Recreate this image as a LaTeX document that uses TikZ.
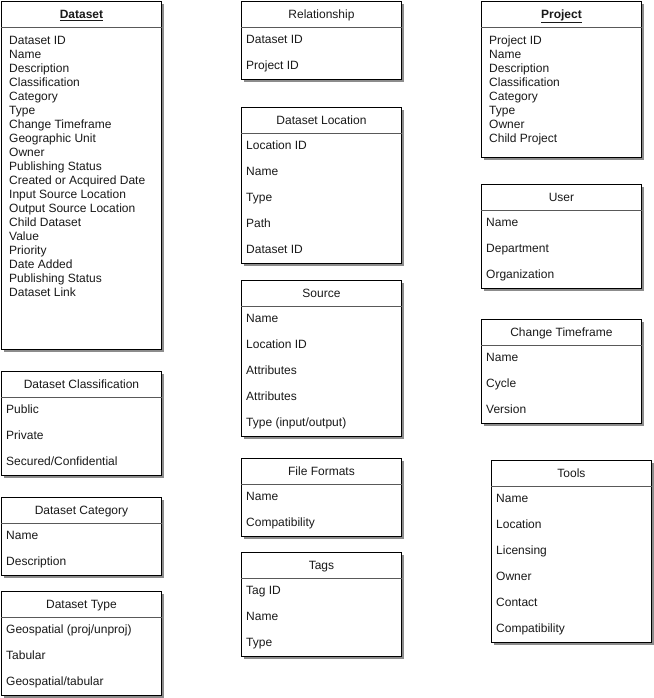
\documentclass[tikz,border=0pt]{standalone}
\usepackage{fontspec}
\setmainfont{Liberation Sans}
\usetikzlibrary{shadows}

\begin{document}
\begin{tikzpicture}[x=1pt, y=-1pt, font=\fontsize{12}{14}\selectfont,
	entity/.style={draw, fill=white, line width=0.9pt, anchor=north west, inner sep=0pt, minimum width=160pt,
		drop shadow={shadow xshift=3pt, shadow yshift=-3pt, fill=black!45, opacity=1}},
	headline/.style={draw=black!65, line width=0.8pt},
	title/.style={inner sep=0pt, text height=10pt, text depth=1pt, text=black!90},
	field/.style={anchor=west, inner sep=0pt, text height=10pt, text depth=1pt, text=black!90}]
	
	\useasboundingbox (0,0) rectangle (653,698); % 画布大小 653 x 698
	
	% 定义普通表格: #1 名称, #2 左上角, #3 高度, #4 标题, #5 字段
	\def\entity#1#2#3#4#5{%
		\node[entity, minimum height=#3] (#1) at (#2) {};
		\draw[headline] ([yshift=-26pt]#1.north west) -- ([yshift=-26pt]#1.north east); % 标题分隔线
		\node[title] (#1-title) at ([yshift=-13pt]#1.north) {#4};
		\foreach \t [count=\i] in {#5}
			\node[field] (#1-\i) at ([xshift=5pt, yshift={-12pt-26pt*\i}]#1.north west) {\t}; % 每行 26px
	}
	
	% 左列: Dataset 主表
	\node[entity, minimum height=348] (dataset) at (1,1) {};
	\draw[headline] ([yshift=-26pt]dataset.north west) -- ([yshift=-26pt]dataset.north east);
	\node[title] (dataset-title) at ([yshift=-13pt]dataset.north) {\underline{\textbf{Dataset}}};
	\foreach \t [count=\i] in {Dataset ID, Name, Description, Classification, Category, Type,
		Change Timeframe, Geographic Unit, Owner, Publishing Status, Created or Acquired Date,
		Input Source Location, Output Source Location, Child Dataset, Value, Priority,
		Date Added, Publishing Status, Dataset Link}
		\node[field] (dataset-\i) at ([xshift=8pt, yshift={-25pt-14pt*\i}]dataset.north west) {\t}; % 每行 14px
	
	\entity{classification}{1,371}{104}{Dataset Classification}{Public, Private, Secured/Confidential}
	\entity{category}{1,497}{78}{Dataset Category}{Name, Description}
	\entity{type}{1,591}{104}{Dataset Type}{Geospatial (proj/unproj), Tabular, Geospatial/tabular}
	
	% 中列
	\entity{relationship}{241,1}{78}{Relationship}{Dataset ID, Project ID}
	\entity{location}{241,107}{156}{Dataset Location}{Location ID, Name, Type, Path, Dataset ID}
	\entity{source}{241,280}{156}{Source}{Name, Location ID, Attributes, Attributes, Type (input/output)}
	\entity{formats}{241,458}{78}{File Formats}{Name, Compatibility}
	\entity{tags}{241,552}{104}{Tags}{Tag ID, Name, Type}
	
	% 右列: Project 主表
	\node[entity, minimum height=156] (project) at (481,1) {};
	\draw[headline] ([yshift=-26pt]project.north west) -- ([yshift=-26pt]project.north east);
	\node[title] (project-title) at ([yshift=-13pt]project.north) {\underline{\textbf{Project}}};
	\foreach \t [count=\i] in {Project ID, Name, Description, Classification, Category, Type, Owner, Child Project}
		\node[field] (project-\i) at ([xshift=8pt, yshift={-25pt-14pt*\i}]project.north west) {\t};
	
	\entity{user}{481,184}{104}{User}{Name, Department, Organization}
	\entity{timeframe}{481,319}{104}{Change Timeframe}{Name, Cycle, Version}
	\entity{tools}{491,460}{182}{Tools}{Name, Location, Licensing, Owner, Contact, Compatibility}
	
\end{tikzpicture}
\end{document}
